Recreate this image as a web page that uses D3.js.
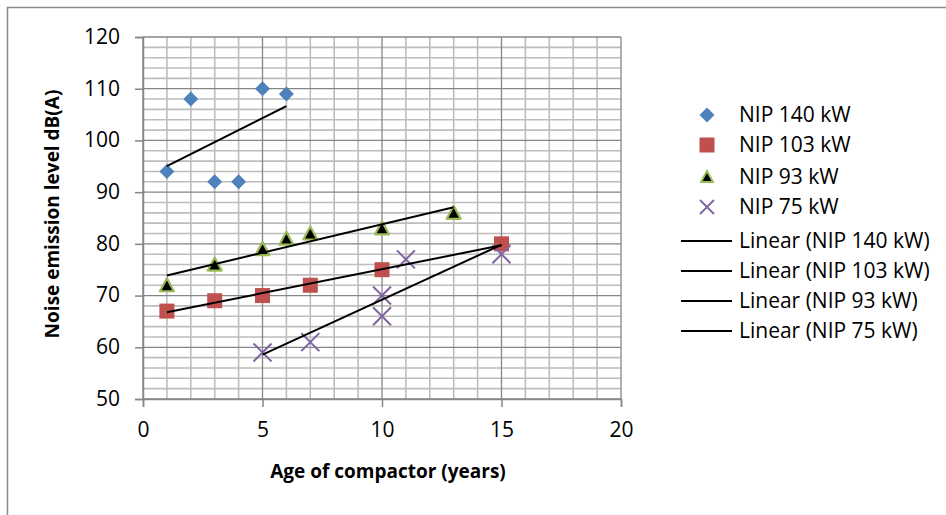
<!DOCTYPE html>
<html><head><meta charset="utf-8">
<script src="https://cdn.jsdelivr.net/npm/d3@7"></script>
<style>body{margin:0;background:#fff;}svg{display:block;font-family:"Open Sans",sans-serif;}</style>
</head><body><svg id="c" width="946" height="515"></svg>
<script>
const seriesNames = ["NIP 140 kW", "NIP 103 kW", "NIP 93 kW", "NIP 75 kW"];
const nip140X = [1, 2, 3, 4, 5, 6];
const nip140Y = [94, 108, 92, 92, 110, 109];
const nip103X = [1, 3, 5, 7, 10, 15];
const nip103Y = [67, 69, 70, 72, 75, 80];
const nip93X = [1, 3, 5, 6, 7, 10, 13];
const nip93Y = [72, 76, 79, 81, 82, 83, 86];
const nip75X = [5, 7, 10, 10, 11, 15];
const nip75Y = [59, 61, 70, 66, 77, 78];
const xTicks = [0, 5, 10, 15, 20];
const yTicks = [50, 60, 70, 80, 90, 100, 110, 120];
const xTitle = "Age of compactor (years)";
const yTitle = "Noise emission level dB(A)";

const svg = d3.select("#c");
const x = d3.scaleLinear().domain([0, 20]).range([143, 621]);
const y = d3.scaleLinear().domain([50, 120]).range([399, 37]);

// outer chart border
svg.append("path").attr("d", "M7.5,520V7.5H950").attr("fill", "none").attr("stroke", "#8a8a8a").attr("stroke-width", 1.5);

const g = svg.append("g");
// minor grid
g.selectAll(".mx").data(d3.range(0, 21, 1).filter(v => v % 5 !== 0)).join("line")
  .attr("x1", d => x(d)).attr("x2", d => x(d)).attr("y1", y(120)).attr("y2", y(50))
  .attr("stroke", "#bdbdbd").attr("stroke-width", 1.6);
g.selectAll(".my").data(d3.range(50, 121, 2).filter(v => v % 10 !== 0)).join("line")
  .attr("y1", d => y(d)).attr("y2", d => y(d)).attr("x1", x(0)).attr("x2", x(20))
  .attr("stroke", "#bdbdbd").attr("stroke-width", 1.6);
// major grid
g.selectAll(".Mx").data(xTicks).join("line")
  .attr("x1", d => x(d)).attr("x2", d => x(d)).attr("y1", y(120)).attr("y2", y(50))
  .attr("stroke", "#868686").attr("stroke-width", 1.3);
g.selectAll(".My").data(yTicks).join("line")
  .attr("y1", d => y(d)).attr("y2", d => y(d)).attr("x1", x(0)).attr("x2", x(20))
  .attr("stroke", "#868686").attr("stroke-width", 1.3);

// axes
const xAxis = svg.append("g").attr("transform", `translate(0,${y(50)})`)
  .call(d3.axisBottom(x).tickValues(xTicks).tickSize(8).tickPadding(15).tickFormat(d3.format("d")));
const yAxis = svg.append("g").attr("transform", `translate(${x(0)},0)`)
  .call(d3.axisLeft(y).tickValues(yTicks).tickSize(8).tickPadding(15).tickFormat(d3.format("d")));
[xAxis, yAxis].forEach(a => {
  a.select(".domain").attr("stroke", "#868686").attr("stroke-width", 1.5);
  a.selectAll(".tick line").attr("stroke", "#868686").attr("stroke-width", 1.5);
  a.selectAll("text").attr("font-size", 21).attr("fill", "#000").attr("font-family", "Open Sans");
});
yAxis.selectAll("text").attr("dy", "0.3em");

// titles
svg.append("text").attr("x", 388).attr("y", 478).attr("text-anchor", "middle")
  .attr("font-weight", "bold").attr("font-size", 19).text(xTitle);
svg.append("text").attr("transform", "translate(59,214) rotate(-90)").attr("text-anchor", "middle")
  .attr("font-weight", "bold").attr("font-size", 19).text(yTitle);

// markers
function marker(sel, i) {
  if (i === 0) sel.append("path").attr("d", "M0,-7.5L7.5,0L0,7.5L-7.5,0Z").attr("fill", "#4f81bd");
  else if (i === 1) sel.append("rect").attr("x", -7.5).attr("y", -7.5).attr("width", 15).attr("height", 15).attr("fill", "#c0504d");
  else if (i === 2) sel.append("path").attr("d", "M0,-7L7,6L-7,6Z").attr("fill", "#000").attr("stroke", "#9bbb59").attr("stroke-width", 2.2).attr("stroke-linejoin", "round");
  else sel.append("path").attr("d", "M-9,-9L9,9M-9,9L9,-9").attr("stroke", "#8064a2").attr("stroke-width", 2).attr("fill", "none");
}

const series = [[nip140X, nip140Y], [nip103X, nip103Y], [nip93X, nip93Y], [nip75X, nip75Y]];
function fit(xs, ys) {
  const mx = d3.mean(xs), my = d3.mean(ys);
  const sxy = d3.sum(xs, (v, k) => (v - mx) * (ys[k] - my));
  const sxx = d3.sum(xs, v => (v - mx) * (v - mx));
  const b = sxy / sxx, a = my - b * mx;
  return [[d3.min(xs), a + b * d3.min(xs)], [d3.max(xs), a + b * d3.max(xs)]];
}
const pts = svg.append("g");
series.forEach(([xs, ys], i) => {
  xs.forEach((v, k) => {
    const m = pts.append("g").attr("transform", `translate(${x(v)},${y(ys[k])})`);
    marker(m, i);
  });
});
const trend = svg.append("g");
series.forEach(([xs, ys]) => {
  const f = fit(xs, ys);
  trend.append("line").attr("x1", x(f[0][0])).attr("y1", y(f[0][1])).attr("x2", x(f[1][0])).attr("y2", y(f[1][1]))
    .attr("stroke", "#000").attr("stroke-width", 2);
});

// legend
const legY = [115, 145, 177, 207, 241, 271, 301, 331];
const leg = svg.append("g");
const labels = seriesNames.concat(seriesNames.map(s => `Linear (${s})`));
labels.forEach((t, i) => {
  const row = leg.append("g").attr("transform", `translate(0,${legY[i]})`);
  if (i < 4) {
    const m = row.append("g").attr("transform", "translate(707,0)");
    if (i === 3) m.append("path").attr("d", "M-7,-7L7,7M-7,7L7,-7").attr("stroke", "#8064a2").attr("stroke-width", 1.8);
    else if (i === 2) m.append("path").attr("d", "M0,-6L6,5L-6,5Z").attr("fill", "#000").attr("stroke", "#9bbb59").attr("stroke-width", 2);
    else marker(m, i);
  } else {
    row.append("line").attr("x1", 681).attr("x2", 732).attr("stroke", "#000").attr("stroke-width", 2);
  }
  row.append("text").attr("x", 739).attr("dy", "0.35em").attr("font-size", 21).text(t);
});
</script></body></html>
